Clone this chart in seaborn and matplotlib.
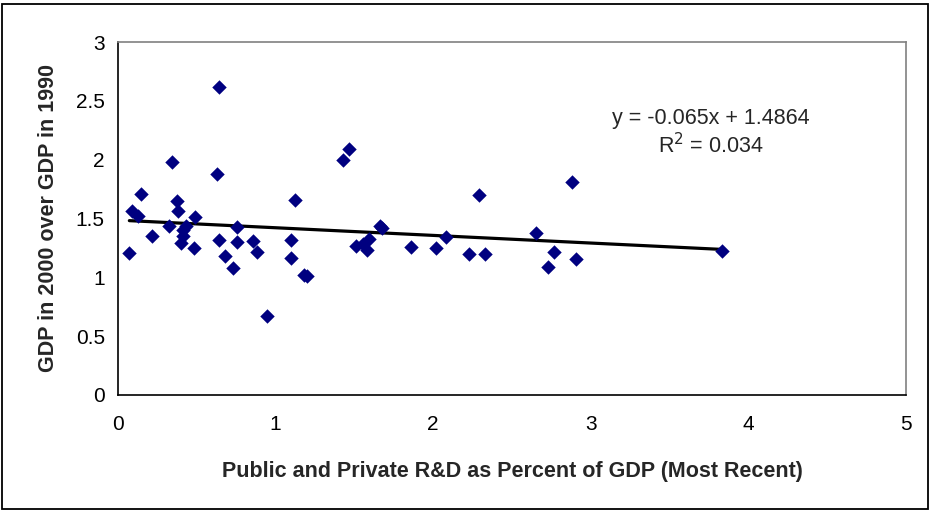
import matplotlib
matplotlib.use("Agg")
import matplotlib.pyplot as plt
import seaborn as sns
import pandas as pd
import numpy as np
from matplotlib.patches import Rectangle

rd_pct = [0.641, 0.34, 0.628, 0.148, 0.375, 1.125, 0.09, 0.13, 0.378, 0.49,
          0.323, 0.43, 0.41, 0.41, 0.40, 0.213, 0.072, 0.757, 0.641, 0.757,
          0.481, 0.68, 0.732, 0.857, 0.884, 0.947, 1.097, 1.097, 1.18, 1.20,
          1.43, 1.464, 2.291, 2.882, 1.66, 1.675, 1.51, 1.553, 1.59, 1.578,
          1.859, 2.02, 2.084, 2.228, 2.327, 2.654, 2.768, 2.73, 2.907, 3.831]
gdp_ratio = [2.62, 1.98, 1.88, 1.71, 1.65, 1.66, 1.56, 1.52, 1.56, 1.51,
             1.44, 1.44, 1.40, 1.35, 1.29, 1.35, 1.205, 1.425, 1.316, 1.303,
             1.251, 1.185, 1.082, 1.306, 1.218, 0.673, 1.32, 1.164, 1.023, 1.008,
             2.00, 2.087, 1.697, 1.812, 1.437, 1.416, 1.265, 1.285, 1.323, 1.232,
             1.255, 1.251, 1.34, 1.201, 1.201, 1.373, 1.218, 1.084, 1.152, 1.225]
slope = -0.065
intercept = 1.4864
r_squared = 0.034
x_ticks = [0, 1, 2, 3, 4, 5]
y_ticks = [0, 0.5, 1, 1.5, 2, 2.5, 3]
y_tick_labels = ["0", "0.5", "1", "1.5", "2", "2.5", "3"]

sns.set_theme(style="white")
plt.rcParams['font.family'] = ['Liberation Sans', 'DejaVu Sans']

df = pd.DataFrame({"x": rd_pct, "y": gdp_ratio})
xs = np.array([min(rd_pct), max(rd_pct)])
trend = pd.DataFrame({"x": xs, "y": slope * xs + intercept})

fig = plt.figure(figsize=(9.31, 5.12), dpi=100)
ax = fig.add_axes([118/931, 1-395/512, (906-118)/931, (395-42)/512])

sns.lineplot(data=trend, x="x", y="y", ax=ax, color="black", linewidth=2.3, zorder=3)
sns.scatterplot(data=df, x="x", y="y", ax=ax, marker="D", s=54, color="#000080",
                linewidth=0, zorder=4)

ax.set_xlim(0, 5)
ax.set_ylim(0, 3)
ax.set_xticks(x_ticks)
ax.set_xticklabels([str(t) for t in x_ticks])
ax.set_yticks(y_ticks)
ax.set_yticklabels(y_tick_labels)
ax.tick_params(axis='both', direction='inout', length=5, width=1.1, color='black',
               labelsize=15, labelcolor='black')
ax.tick_params(axis='y', pad=7)
ax.tick_params(axis='x', pad=12)

for side in ['left', 'bottom']:
    ax.spines[side].set_color('black')
    ax.spines[side].set_linewidth(1.2)
for side in ['top', 'right']:
    ax.spines[side].set_color('#808080')
    ax.spines[side].set_linewidth(1.2)

ax.set_xlabel("Public and Private R&D as Percent of GDP (Most Recent)",
              fontsize=15.5, fontweight='bold', labelpad=19)
ax.set_ylabel("GDP in 2000 over GDP in 1990", fontsize=15.5, fontweight='bold', labelpad=12)

ax.text(3.76, 2.35, f"y = {slope}x + {intercept}", ha='center', va='center', fontsize=15.5)
ax.text(3.76, 2.12, f"R$^2$ = {r_squared}", ha='center', va='center', fontsize=15.5)

fig.patches.append(Rectangle((2/931, 3/512), 926/931, 505/512, transform=fig.transFigure,
                             fill=False, edgecolor='black', linewidth=1.3))

fig.savefig("out.png", dpi=100)
